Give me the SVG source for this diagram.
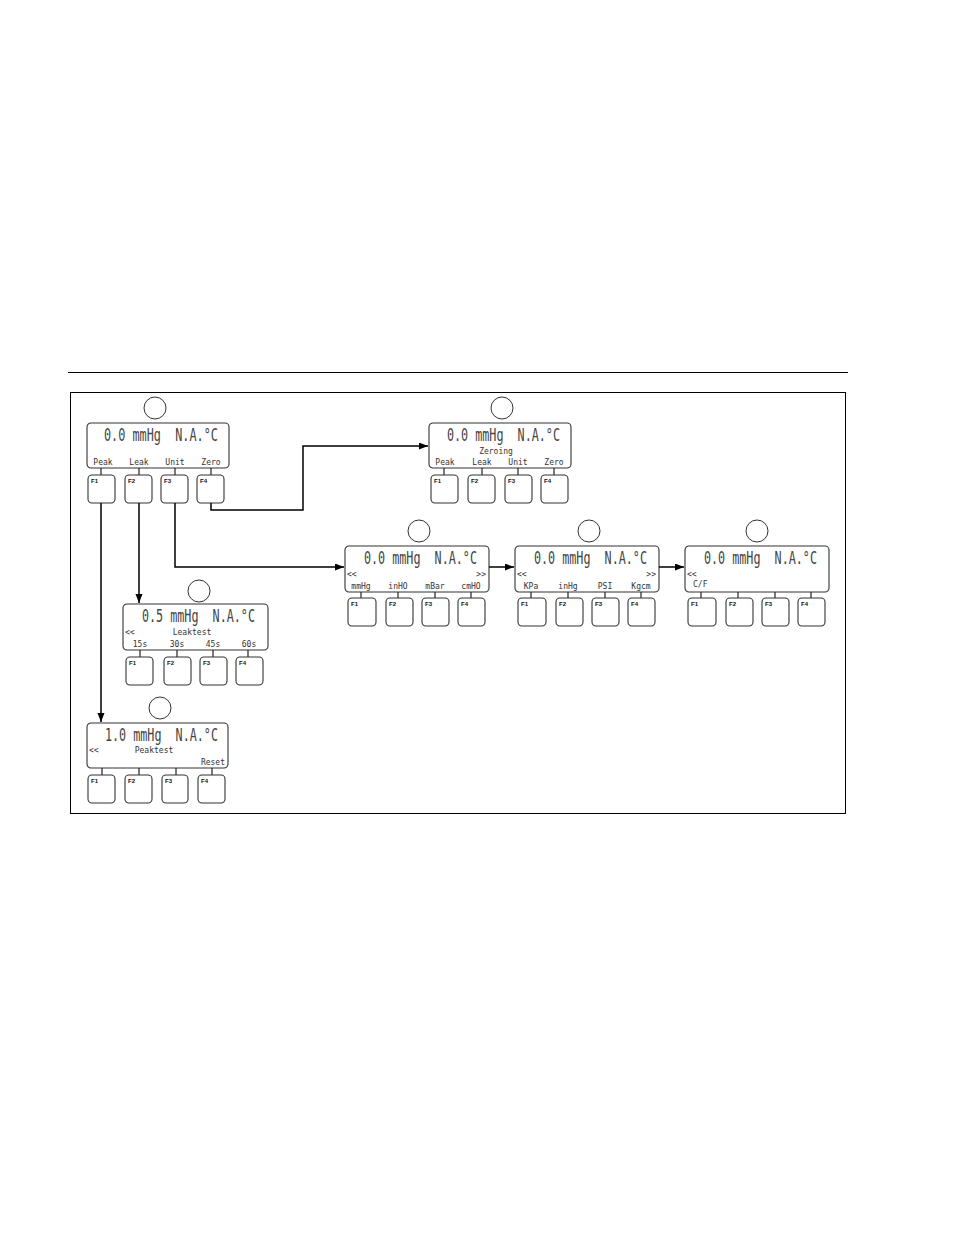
<svg xmlns="http://www.w3.org/2000/svg" width="954" height="1235" viewBox="0 0 954 1235">
<defs>
<marker id="ah" markerUnits="userSpaceOnUse" markerWidth="10" markerHeight="8" refX="9" refY="3.5" orient="auto">
<path d="M0,0 L9,3.5 L0,7 z" fill="#000"/>
</marker>
</defs>
<style>
.disp{fill:#fff;stroke:#333;stroke-width:1.1}
.btn{fill:#fff;stroke:#333;stroke-width:1.1}
.tick{stroke:#222;stroke-width:1.2}
.circ{fill:none;stroke:#333;stroke-width:1}
.lcd{font-family:"DejaVu Sans Mono","Liberation Mono",monospace;font-size:17px;fill:#444;white-space:pre}
.sm{font-family:"DejaVu Sans Mono","Liberation Mono",monospace;font-size:8px;fill:#333}
.fk{font-family:"Liberation Sans",Arial,sans-serif;font-size:6px;font-weight:bold;fill:#111}
.con{fill:none;stroke:#000;stroke-width:1.5}
</style>
<rect width="954" height="1235" fill="#fff"/>
<line x1="68" y1="372.5" x2="848" y2="372.5" stroke="#000" stroke-width="1.2"/>
<rect x="70.5" y="392.5" width="775" height="421" fill="none" stroke="#000" stroke-width="1"/>

<g id="node-main">
<circle class="circ" cx="155" cy="408" r="11"/>
<g transform="translate(87,423)">
<rect class="disp" x="0" y="0" width="142" height="45" rx="4"/>
<text class="lcd" x="17" y="18" textLength="114" lengthAdjust="spacingAndGlyphs" xml:space="preserve">0.0 mmHg  N.A.°C</text>
<text class="sm" x="16" y="42" text-anchor="middle">Peak</text>
<text class="sm" x="52" y="42" text-anchor="middle">Leak</text>
<text class="sm" x="88" y="42" text-anchor="middle">Unit</text>
<text class="sm" x="124" y="42" text-anchor="middle">Zero</text>
<line class="tick" x1="14" y1="45" x2="14" y2="52"/><line class="tick" x1="52" y1="45" x2="52" y2="52"/><line class="tick" x1="88" y1="45" x2="88" y2="52"/><line class="tick" x1="124" y1="45" x2="124" y2="52"/>
<rect class="btn" x="1" y="52" width="27" height="28" rx="4"/><text class="fk" x="4" y="60">F1</text>
<rect class="btn" x="38" y="52" width="27" height="28" rx="4"/><text class="fk" x="41" y="60">F2</text>
<rect class="btn" x="74" y="52" width="27" height="28" rx="4"/><text class="fk" x="77" y="60">F3</text>
<rect class="btn" x="110" y="52" width="27" height="28" rx="4"/><text class="fk" x="113" y="60">F4</text>
</g>
</g>

<g id="node-zeroing">
<circle class="circ" cx="502" cy="408" r="11"/>
<g transform="translate(429,423)">
<rect class="disp" x="0" y="0" width="142" height="45" rx="4"/>
<text class="lcd" x="18" y="18" textLength="113" lengthAdjust="spacingAndGlyphs" xml:space="preserve">0.0 mmHg  N.A.°C</text>
<text class="sm" x="67" y="31" text-anchor="middle">Zeroing</text>
<text class="sm" x="16" y="42" text-anchor="middle">Peak</text>
<text class="sm" x="53" y="42" text-anchor="middle">Leak</text>
<text class="sm" x="89" y="42" text-anchor="middle">Unit</text>
<text class="sm" x="125" y="42" text-anchor="middle">Zero</text>
<line class="tick" x1="15" y1="45" x2="15" y2="52"/><line class="tick" x1="53" y1="45" x2="53" y2="52"/><line class="tick" x1="89" y1="45" x2="89" y2="52"/><line class="tick" x1="125" y1="45" x2="125" y2="52"/>
<rect class="btn" x="2" y="52" width="27" height="28" rx="4"/><text class="fk" x="5" y="60">F1</text>
<rect class="btn" x="39" y="52" width="27" height="28" rx="4"/><text class="fk" x="42" y="60">F2</text>
<rect class="btn" x="76" y="52" width="27" height="28" rx="4"/><text class="fk" x="79" y="60">F3</text>
<rect class="btn" x="112" y="52" width="27" height="28" rx="4"/><text class="fk" x="115" y="60">F4</text>
</g>
</g>

<g id="node-unit1">
<circle class="circ" cx="419" cy="531" r="11"/>
<g transform="translate(345,546)">
<rect class="disp" x="0" y="0" width="144" height="46" rx="4"/>
<text class="lcd" x="19" y="18" textLength="113" lengthAdjust="spacingAndGlyphs" xml:space="preserve">0.0 mmHg  N.A.°C</text>
<text class="sm" x="2" y="31">&lt;&lt;</text>
<text class="sm" x="141" y="31" text-anchor="end">&gt;&gt;</text>
<text class="sm" x="16" y="43" text-anchor="middle">mmHg</text>
<text class="sm" x="53" y="43" text-anchor="middle">inHO</text>
<text class="sm" x="90" y="43" text-anchor="middle">mBar</text>
<text class="sm" x="126" y="43" text-anchor="middle">cmHO</text>
<line class="tick" x1="16" y1="46" x2="16" y2="52"/><line class="tick" x1="53" y1="46" x2="53" y2="52"/><line class="tick" x1="90" y1="46" x2="90" y2="52"/><line class="tick" x1="126" y1="46" x2="126" y2="52"/>
<rect class="btn" x="3" y="52" width="28" height="28" rx="4"/><text class="fk" x="6" y="60">F1</text>
<rect class="btn" x="41" y="52" width="27" height="28" rx="4"/><text class="fk" x="44" y="60">F2</text>
<rect class="btn" x="77" y="52" width="27" height="28" rx="4"/><text class="fk" x="80" y="60">F3</text>
<rect class="btn" x="113" y="52" width="27" height="28" rx="4"/><text class="fk" x="116" y="60">F4</text>
</g>
</g>

<g id="node-unit2">
<circle class="circ" cx="589" cy="531" r="11"/>
<g transform="translate(515,546)">
<rect class="disp" x="0" y="0" width="144" height="46" rx="4"/>
<text class="lcd" x="19" y="18" textLength="113" lengthAdjust="spacingAndGlyphs" xml:space="preserve">0.0 mmHg  N.A.°C</text>
<text class="sm" x="2" y="31">&lt;&lt;</text>
<text class="sm" x="141" y="31" text-anchor="end">&gt;&gt;</text>
<text class="sm" x="16" y="43" text-anchor="middle">KPa</text>
<text class="sm" x="53" y="43" text-anchor="middle">inHg</text>
<text class="sm" x="90" y="43" text-anchor="middle">PSI</text>
<text class="sm" x="126" y="43" text-anchor="middle">Kgcm</text>
<line class="tick" x1="16" y1="46" x2="16" y2="52"/><line class="tick" x1="53" y1="46" x2="53" y2="52"/><line class="tick" x1="90" y1="46" x2="90" y2="52"/><line class="tick" x1="126" y1="46" x2="126" y2="52"/>
<rect class="btn" x="3" y="52" width="28" height="28" rx="4"/><text class="fk" x="6" y="60">F1</text>
<rect class="btn" x="41" y="52" width="27" height="28" rx="4"/><text class="fk" x="44" y="60">F2</text>
<rect class="btn" x="77" y="52" width="27" height="28" rx="4"/><text class="fk" x="80" y="60">F3</text>
<rect class="btn" x="113" y="52" width="27" height="28" rx="4"/><text class="fk" x="116" y="60">F4</text>
</g>
</g>

<g id="node-unit3">
<circle class="circ" cx="757" cy="531" r="11"/>
<g transform="translate(685,546)">
<rect class="disp" x="0" y="0" width="144" height="46" rx="4"/>
<text class="lcd" x="19" y="18" textLength="113" lengthAdjust="spacingAndGlyphs" xml:space="preserve">0.0 mmHg  N.A.°C</text>
<text class="sm" x="2" y="31">&lt;&lt;</text>
<text class="sm" x="8" y="41">C/F</text>
<line class="tick" x1="16" y1="46" x2="16" y2="52"/><line class="tick" x1="53" y1="46" x2="53" y2="52"/><line class="tick" x1="90" y1="46" x2="90" y2="52"/><line class="tick" x1="126" y1="46" x2="126" y2="52"/>
<rect class="btn" x="3" y="52" width="28" height="28" rx="4"/><text class="fk" x="6" y="60">F1</text>
<rect class="btn" x="41" y="52" width="27" height="28" rx="4"/><text class="fk" x="44" y="60">F2</text>
<rect class="btn" x="77" y="52" width="27" height="28" rx="4"/><text class="fk" x="80" y="60">F3</text>
<rect class="btn" x="113" y="52" width="27" height="28" rx="4"/><text class="fk" x="116" y="60">F4</text>
</g>
</g>

<g id="node-leaktest">
<circle class="circ" cx="199" cy="591" r="11"/>
<g transform="translate(123,604)">
<rect class="disp" x="0" y="0" width="145" height="46" rx="4"/>
<text class="lcd" x="19" y="18" textLength="113" lengthAdjust="spacingAndGlyphs" xml:space="preserve">0.5 mmHg  N.A.°C</text>
<text class="sm" x="2" y="31">&lt;&lt;</text>
<text class="sm" x="69" y="31" text-anchor="middle">Leaktest</text>
<text class="sm" x="17" y="43" text-anchor="middle">15s</text>
<text class="sm" x="54" y="43" text-anchor="middle">30s</text>
<text class="sm" x="90" y="43" text-anchor="middle">45s</text>
<text class="sm" x="126" y="43" text-anchor="middle">60s</text>
<line class="tick" x1="17" y1="46" x2="17" y2="53"/><line class="tick" x1="54" y1="46" x2="54" y2="53"/><line class="tick" x1="90" y1="46" x2="90" y2="53"/><line class="tick" x1="125" y1="46" x2="125" y2="53"/>
<rect class="btn" x="3" y="53" width="27" height="28" rx="4"/><text class="fk" x="6" y="61">F1</text>
<rect class="btn" x="41" y="53" width="27" height="28" rx="4"/><text class="fk" x="44" y="61">F2</text>
<rect class="btn" x="77" y="53" width="27" height="28" rx="4"/><text class="fk" x="80" y="61">F3</text>
<rect class="btn" x="113" y="53" width="27" height="28" rx="4"/><text class="fk" x="116" y="61">F4</text>
</g>
</g>

<g id="node-peaktest">
<circle class="circ" cx="160" cy="708" r="11"/>
<g transform="translate(87,723)">
<rect class="disp" x="0" y="0" width="141" height="45" rx="4"/>
<text class="lcd" x="18" y="18" textLength="113" lengthAdjust="spacingAndGlyphs" xml:space="preserve">1.0 mmHg  N.A.°C</text>
<text class="sm" x="2" y="30">&lt;&lt;</text>
<text class="sm" x="67" y="30" text-anchor="middle">Peaktest</text>
<text class="sm" x="138" y="42" text-anchor="end">Reset</text>
<line class="tick" x1="15" y1="45" x2="15" y2="52"/><line class="tick" x1="52" y1="45" x2="52" y2="52"/><line class="tick" x1="89" y1="45" x2="89" y2="52"/><line class="tick" x1="125" y1="45" x2="125" y2="52"/>
<rect class="btn" x="1" y="52" width="27" height="28" rx="4"/><text class="fk" x="4" y="60">F1</text>
<rect class="btn" x="38" y="52" width="27" height="28" rx="4"/><text class="fk" x="41" y="60">F2</text>
<rect class="btn" x="75" y="52" width="26" height="28" rx="4"/><text class="fk" x="78" y="60">F3</text>
<rect class="btn" x="111" y="52" width="27" height="28" rx="4"/><text class="fk" x="114" y="60">F4</text>
</g>
</g>

<g id="connectors">
<path class="con" d="M101,503 V722" marker-end="url(#ah)"/>
<path class="con" d="M139,503 V603" marker-end="url(#ah)"/>
<path class="con" d="M175,503 V567 H344" marker-end="url(#ah)"/>
<path class="con" d="M211,503 V510 H303 V446 H428" marker-end="url(#ah)"/>
<path class="con" d="M489,567 H514" marker-end="url(#ah)"/>
<path class="con" d="M659,567 H684" marker-end="url(#ah)"/>
</g>
</svg>
